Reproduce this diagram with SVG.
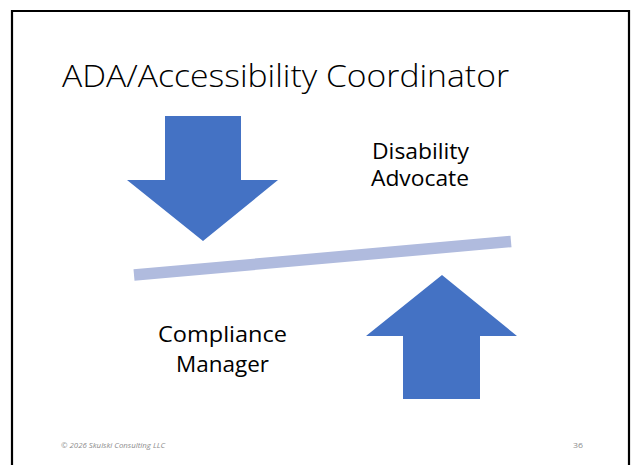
<svg xmlns="http://www.w3.org/2000/svg" width="632" height="465" viewBox="0 0 632 465">
  <style>
    .lbl { font-family: "Open Sans", "Liberation Sans", sans-serif; font-size: 21px; fill: #000; text-anchor: middle; }
    .title { font-family: "Open Sans", "Liberation Sans", sans-serif; font-weight: 300; font-size: 31px; fill: #000; }
    .foot { font-family: "Open Sans", "Liberation Sans", sans-serif; font-style: italic; font-size: 8px; fill: #8c8c8c; }
    .num { font-family: "Open Sans", "Liberation Sans", sans-serif; font-size: 8px; fill: #8c8c8c; }
    .arrow { fill: #4472c4; }
  </style>
  <rect x="0" y="0" width="632" height="465" fill="#ffffff"/>
  <path d="M12,470 V11 H629 V470" fill="none" stroke="#000" stroke-width="2.2"/>
  <text class="title" x="62" y="87" textLength="447" lengthAdjust="spacingAndGlyphs">ADA/Accessibility Coordinator</text>

  <g id="connectors">
    <line x1="134" y1="275" x2="511" y2="241.5" stroke="#b0bbde" stroke-width="11.5"/>
  </g>

  <g id="down-arrow">
    <polygon class="arrow" points="165,116 241,116 241,180 278,180 203,241 127,180 165,180"/>
  </g>
  <g id="up-arrow">
    <polygon class="arrow" points="442,275 517,336 480,336 480,399 403,399 403,336 366,336"/>
  </g>

  <g id="disability-advocate">
    <text class="lbl" x="420.5" y="159" textLength="97" lengthAdjust="spacingAndGlyphs">Disability</text>
    <text class="lbl" x="420" y="186" textLength="98" lengthAdjust="spacingAndGlyphs">Advocate</text>
  </g>
  <g id="compliance-manager">
    <text class="lbl" x="222.5" y="342" textLength="129" lengthAdjust="spacingAndGlyphs">Compliance</text>
    <text class="lbl" x="222.5" y="372" textLength="93" lengthAdjust="spacingAndGlyphs">Manager</text>
  </g>

  <text class="foot" x="61" y="448" textLength="104" lengthAdjust="spacingAndGlyphs">© 2026 Skulski Consulting LLC</text>
  <text class="num" x="573" y="448" textLength="10" lengthAdjust="spacingAndGlyphs">36</text>
</svg>
